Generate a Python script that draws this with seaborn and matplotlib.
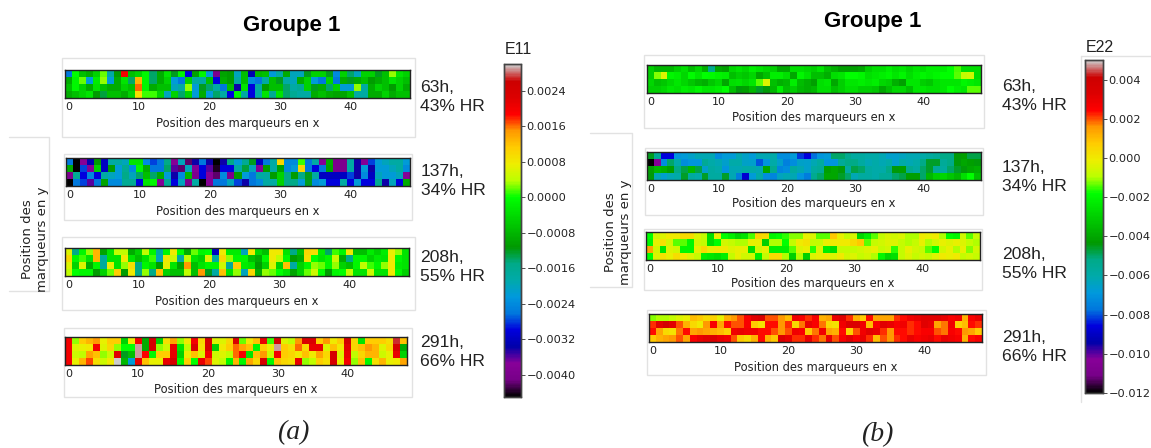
import numpy as np
import seaborn as sns
from matplotlib import pyplot as plt
from matplotlib.lines import Line2D
from matplotlib.patches import Rectangle
from matplotlib.ticker import MultipleLocator

e11_63h = [
    [-26,0,-7,-9,-5,2,-18,-11,20,-7,  -5,-1,-14,-9,-3,-12,-1,-30,-10,-1,  -22,-40,-10,-11,-20,-7,-33,-8,-7,-22,  -18,-9,-20,-20,-12,-5,-5,-12,-24,-5,  -14,-20,-5,-5,-12,-7,3,-3,-5],
    [-9,-1,2,-22,-2,3,-22,-9,-3,-14,  13,-1,-14,-9,-5,-22,-26,-5,-18,-18,  -7,-30,-9,-11,-18,-7,-24,-26,-18,-7,  -12,-18,-20,-9,-5,-22,-26,-5,-26,-9,  -12,-9,-7,-11,-9,-7,-3,-5,-7],
    [-7,-1,-5,-9,-3,-7,-9,-9,-5,-7,  16,-1,-9,-7,-7,-20,-18,3,-22,-12,  -14,-18,-26,-7,-34,-3,-30,-18,-11,-7,  -7,-14,-18,-16,-5,-12,-9,-14,-5,-22,  -22,3,-18,-9,-5,-7,-11,-5,-9],
    [-9,-7,-5,-3,-11,-13,-7,-7,-9,-5,  9,1,1,-5,-20,-5,-14,-5,-22,-9,  -22,-14,-18,-30,-1,-18,-30,-18,-3,-16,  -3,-14,-16,-18,-18,-9,-7,-9,-10,-10,  -7,-18,-18,-9,-9,-5,-9,-7,-7],
]
e11_137h = [
    [-26,-45,-38,-33,-11,-32,-18,-18,-20,-3,  -3,-24,-28,-26,-15,-38,-20,-42,-34,-26,  -34,-45,-34,-15,-22,-16,-12,-32,-26,-18,  10,-24,-24,1,-26,-18,-38,-9,-40,-40,  -18,-34,-38,-28,-22,-20,-18,-18,-22],
    [-9,-45,-28,-38,-5,-32,-11,-22,-16,-24,  -1,-9,-26,-26,-14,-36,-42,-20,-38,-30,  -36,-44,-30,-30,-18,-13,-20,-38,-11,-18,  -10,-24,-22,10,-26,-30,-26,-10,-40,-40,  -18,-34,-22,-34,-22,-22,-20,-18,-24],
    [-40,-16,-30,-24,-30,-18,-20,-22,-15,-20,  -14,-7,-14,-9,-22,-34,-24,-8,-40,-30,  -38,-42,-24,-40,-11,-22,-26,-18,-18,-11,  -5,-15,-11,-15,-12,-18,-32,-32,-32,-32,  -28,-34,-24,-32,-20,-22,-22,-20,-38],
    [-45,-26,-28,-36,-26,-10,-24,-24,-16,-16,  -30,-3,-1,-38,-16,-30,-20,-40,-18,-45,  -38,-26,-26,-20,-28,-34,-26,-24,-18,-18,  -5,-15,-15,-22,-12,-24,-22,-30,-30,-18,  -30,-22,-30,-30,-16,-34,-20,-30,-9],
]
e11_208h = [
    [6,-15,-1,3,13,-10,-3,4,4,-9,  -5,4,-1,-18,-1,8,0,-9,2,-1,  0,-32,8,-2,-2,-20,8,-4,-7,8,  8,-3,-15,-7,10,9,-2,-14,1,-1,  8,-7,-7,-2,-5,-2,7,3,-3],
    [10,-1,1,-3,13,-17,-3,-3,8,-3,  -7,-3,1,-20,8,5,-18,4,-3,-5,  6,-18,10,3,-1,-1,-7,-9,-1,8,  4,-1,-11,-9,9,0,-3,-1,5,-9,  -15,-1,-1,-5,-2,-3,8,-1,-3],
    [6,-5,6,-9,-1,-17,7,-3,3,9,  -15,-1,-3,-11,7,-3,-10,15,-7,-3,  -1,-1,5,-17,11,-2,-3,-11,-5,6,  -5,12,-18,-5,-1,3,2,-1,3,-5,  -7,-1,4,1,-1,3,8,-2,-3],
    [4,0,-1,-1,-11,-5,2,11,-11,8,  -15,3,-15,12,-5,-7,-7,4,-7,15,  -12,-18,12,-3,3,-20,10,-9,3,2,  0,-3,-10,-5,2,5,0,-11,-1,0,  4,-3,-3,5,-3,-3,8,-1,-5],
]
e11_291h = [
    [20,3,11,13,15,7,11,11,-5,8,  20,-9,24,-5,9,14,3,8,20,10,  24,6,6,10,23,2,8,12,21,1,  24,6,4,15,23,23,11,15,8,11,  25,10,-3,11,11,11,9,27,12],
    [20,6,7,8,20,6,10,3,0,0,  29,-9,24,3,5,21,-3,4,23,9,  24,-5,8,11,16,14,12,-1,11,7,  29,11,9,16,10,21,21,6,12,8,  22,10,12,15,13,6,10,24,-9],
    [20,5,4,14,12,3,5,22,-12,-7,  29,19,-1,11,11,21,-5,7,12,6,  20,5,6,4,16,20,-3,12,15,5,  20,11,10,8,12,8,14,10,24,6,  21,4,10,13,13,5,7,21,-5],
    [20,7,13,17,9,5,8,30,-8,-22,  21,12,7,7,21,24,-1,11,0,21,  17,6,4,-1,13,-1,14,10,24,-1,  12,10,9,21,3,4,11,9,24,7,  20,3,12,-1,9,13,7,8,14],
]
e22_63h = [
    [-30,-36,-36,-36,-30,-26,-35,-28,-38,-54,  -40,-42,-28,-25,-28,-22,-25,-28,-30,-40,  -40,-26,-26,-28,-30,-25,-34,-38,-42,-42,  -42,-40,-30,-26,-26,-22,-26,-24,-28,-24,  -26,-22,-22,-22,-18,-15,-26,-26,-26],
    [-30,-12,-4,-20,-22,-28,-19,-24,-18,-19,  -21,-22,-34,-30,-32,-28,-40,-34,-22,-22,  -26,-40,-20,-25,-34,-34,-38,-26,-24,-18,  -18,-20,-26,-24,-22,-20,-24,-20,-26,-22,  -20,-22,-20,-18,-18,-14,-8,-6,-26],
    [-28,-34,-32,-28,-24,-28,-32,-36,-38,-32,  -28,-40,-26,-25,-28,-24,-14,-4,-34,-38,  -36,-22,-35,-38,-42,-26,-24,-40,-30,-24,  -24,-22,-24,-22,-28,-30,-38,-42,-24,-24,  -30,-32,-26,-24,-24,-24,-20,-22,-24],
    [-30,-30,-28,-24,-26,-22,-24,-20,-24,-24,  -22,-18,-34,-44,-42,-36,-46,-44,-36,-22,  -34,-30,-36,-38,-36,-26,-26,-34,-30,-26,  -26,-30,-30,-32,-40,-34,-28,-28,-34,-24,  -24,-26,-26,-24,-18,-22,-24,-14,-14],
]
e22_137h = [
    [-45,-55,-86,-86,-70,-68,-65,-62,-62,-62,  -72,-68,-68,-62,-65,-68,-62,-62,-60,-72,  -72,-68,-82,-86,-78,-70,-68,-50,-50,-54,  -58,-58,-60,-60,-62,-66,-66,-64,-62,-62,  -60,-58,-56,-52,-52,-44,-42,-48,-48],
    [-120,-105,-72,-50,-60,-72,-70,-70,-55,-60,  -62,-66,-60,-60,-65,-66,-80,-70,-60,-66,  -75,-72,-65,-66,-62,-58,-70,-70,-56,-52,  -52,-58,-62,-60,-62,-60,-66,-60,-62,-60,  -52,-46,-46,-56,-52,-44,-40,-42,-44],
    [-42,-36,-38,-42,-52,-48,-36,-48,-66,-58,  -60,-70,-62,-62,-60,-60,-62,-40,-54,-74,  -72,-58,-62,-66,-58,-56,-42,-40,-44,-58,  -48,-50,-58,-60,-60,-52,-44,-42,-54,-58,  -50,-46,-56,-58,-50,-46,-44,-40,-38],
    [-44,-62,-66,-62,-60,-46,-58,-60,-46,-58,  -58,-46,-62,-76,-88,-68,-60,-72,-74,-64,  -62,-62,-70,-76,-54,-50,-40,-40,-46,-50,  -62,-58,-58,-60,-56,-56,-50,-48,-42,-42,  -50,-36,-30,-28,-32,-36,-26,-18,-34],
]
e22_208h = [
    [-18,-6,-4,0,0,4,4,-4,-8,-26,  -2,-18,-22,-28,-25,-15,5,4,-20,-18,  -16,-12,-12,-2,-4,-14,-14,8,-2,-8,  -5,-28,-22,-14,-8,-5,-6,-4,-10,-10,  0,-2,0,-10,-18,-20,-6,-14,-8],
    [-20,-2,2,-6,-14,-14,-20,-6,-8,-26,  -18,-6,-8,-10,-10,-2,-2,-30,-10,-10,  -18,-8,0,2,-8,-8,-2,0,0,0,  4,8,-14,-8,-6,-4,-4,-8,-10,-8,  -2,-10,-6,-2,-4,-2,-4,-8,-10],
    [14,-6,-24,-4,-6,-20,-20,-2,4,-2,  0,0,-4,-2,-2,-26,-6,-2,-22,-22,  -22,-14,-4,-2,-16,-4,-22,-26,-8,-8,  -8,-6,-4,-2,-8,-6,-16,-8,-2,-6,  -8,-14,-18,-6,-2,-10,-2,-12,-6],
    [-18,-4,2,-2,3,0,-4,-8,-22,-24,  -26,-22,-8,-2,-6,-6,-22,-8,4,4,  -10,-30,-10,-30,-4,-2,0,-4,0,-6,  -4,-8,-6,-10,-20,-28,-26,-8,-4,-8,  -6,-8,-4,0,-2,0,-8,-6,-8],
]
e22_291h = [
    [-12,-10,-10,-8,-4,-2,10,8,4,6,  -2,12,16,20,26,32,34,20,20,16,  10,28,26,22,26,12,14,30,32,22,  12,7,24,14,14,14,22,24,28,30,  32,32,32,30,26,28,12,26,30],
    [22,32,38,32,20,12,4,0,16,26,  14,24,20,20,26,7,2,24,24,16,  22,4,18,30,26,18,4,2,28,34,  34,28,10,26,32,30,26,28,22,24,  32,30,14,18,28,6,10,24,22],
    [24,14,4,2,18,24,14,16,14,12,  10,6,28,30,28,28,24,24,20,16,  20,28,26,8,18,28,14,12,24,6,  20,28,32,30,22,16,24,24,22,24,  26,26,20,18,26,24,16,14,8],
    [8,12,14,16,20,14,26,30,32,34,  30,28,20,8,4,12,24,12,8,34,  30,22,22,30,22,18,30,20,26,32,  26,30,22,10,20,16,22,24,30,26,  28,30,24,30,28,26,12,24,26],
]

x_ticks = [0, 10, 20, 30, 40]
x_label = "Position des marqueurs en x"
y_label = "Position des\nmarqueurs en y"
time_labels = ["63h,\n43% HR", "137h,\n34% HR", "208h,\n55% HR", "291h,\n66% HR"]

W, H = 1151, 448
SANS = ["Liberation Sans", "DejaVu Sans"]
GREY = "#e2e2e2"

sns.set_theme(style="white")
plt.rcParams["font.family"] = ["DejaVu Sans"]

fig = plt.figure(figsize=(W / 100, H / 100), dpi=100, facecolor="white")


def px_axes(x0, y0, x1, y1):
    return fig.add_axes([x0 / W, 1 - y1 / H, (x1 - x0) / W, (y1 - y0) / H])


def px_text(x, y, s, **kw):
    fig.text(x / W, 1 - y / H, s, **kw)


def px_line(xs, ys):
    fig.add_artist(Line2D([x / W for x in xs], [1 - y / H for y in ys], color=GREY, lw=1, zorder=-1))


def px_box(x0, y0, x1, y1):
    fig.add_artist(Rectangle((x0 / W, 1 - y1 / H), (x1 - x0) / W, (y1 - y0) / H,
                             transform=fig.transFigure, fc="white", ec=GREY, lw=1, zorder=-1))


def strip(values, vmin, vmax, box, frame, label_y, time_x, time_y, time_label, cax=None):
    px_box(*frame)
    ax = px_axes(*box)
    sns.heatmap(np.array(values) * 1e-4, ax=ax, cmap="nipy_spectral", vmin=vmin, vmax=vmax,
                cbar=cax is not None, cbar_ax=cax, xticklabels=False, yticklabels=False)
    ax.set_xticks([t + 0.5 for t in x_ticks], [str(t) for t in x_ticks])
    ax.set_yticks([0.5, 1.5, 2.5, 3.5], [])
    ax.tick_params(axis="both", which="major", direction="in", length=2.5, width=0.6,
                   top=True, right=True, left=True, bottom=True, color="black", pad=3,
                   labelsize=8, labelcolor="#222222")
    for s in ax.spines.values():
        s.set_visible(True)
        s.set_color("#222222")
        s.set_linewidth(1)
    px_text((box[0] + box[2]) / 2, label_y, x_label, ha="center", va="center",
            fontsize=8.3, color="#222222")
    px_text(time_x, time_y, time_label, ha="left", va="center", family=SANS,
            fontsize=12.6, color="#222222", linespacing=1.35)
    return ax


def colorbar(cax, locator, title, title_x, title_y):
    cax.yaxis.set_major_locator(locator)
    cax.tick_params(axis="y", length=3, width=0.6, labelsize=8.2, pad=1, right=True,
                    labelcolor="#222222", color="#333333")
    for s in cax.spines.values():
        s.set_visible(True)
        s.set_color("#444444")
        s.set_linewidth(1)
    px_text(title_x, title_y, title, ha="left", va="center", family=SANS, fontsize=11.5,
            color="#222222")


# panel (a)
E11_MIN, E11_MAX = -0.0045, 0.0030
px_line([9, 49, 49, 9], [137, 137, 291, 291])
cax_a = px_axes(504, 64, 521, 397)
strip(e11_63h, E11_MIN, E11_MAX, (65, 70, 410, 98), (62, 58, 415, 137), 123, 420, 97, time_labels[0], cax_a)
strip(e11_137h, E11_MIN, E11_MAX, (66, 158, 410, 186), (64, 154, 412, 220), 211, 421, 181, time_labels[1])
strip(e11_208h, E11_MIN, E11_MAX, (65, 248, 409, 276), (62, 237, 415, 310), 301, 420, 267, time_labels[2])
strip(e11_291h, E11_MIN, E11_MAX, (65, 337, 407, 365), (64, 328, 412, 397), 389, 420, 352, time_labels[3])
colorbar(cax_a, MultipleLocator(0.0008), "E11", 505, 49)
px_text(35, 239, y_label, rotation=90, ha="center", va="center", multialignment="center",
        fontsize=9.5, color="#222222")
px_text(292, 26, "Groupe 1", ha="center", va="center", family=SANS, fontsize=16, fontweight="bold", color="black")
px_text(293, 433, "(a)", ha="center", va="center", family="Liberation Serif", style="italic", fontsize=20, color="#222222")

# panel (b)
E22_MIN, E22_MAX = -0.012, 0.005
px_line([590, 632, 632, 590], [133, 133, 287, 287])
cax_b = px_axes(1085, 60, 1103, 393)
strip(e22_63h, E22_MIN, E22_MAX, (647, 65, 981, 93), (644, 55, 984, 128), 117, 1002, 96, time_labels[0], cax_b)
strip(e22_137h, E22_MIN, E22_MAX, (647, 152, 981, 180), (645, 148, 983, 215), 204, 1002, 177, time_labels[1])
strip(e22_208h, E22_MIN, E22_MAX, (646, 232, 980, 260), (644, 229, 982, 290), 284, 1002, 264, time_labels[2])
strip(e22_291h, E22_MIN, E22_MAX, (649, 314, 982, 342), (647, 310, 986, 375), 367, 1002, 347, time_labels[3])
colorbar(cax_b, MultipleLocator(0.002), "E22", 1086, 47)
px_text(618, 232, y_label, rotation=90, ha="center", va="center", multialignment="center",
        fontsize=9.5, color="#222222")
px_text(873, 21, "Groupe 1", ha="center", va="center", family=SANS, fontsize=16, fontweight="bold", color="black")
px_text(877, 435, "(b)", ha="center", va="center", family="Liberation Serif", style="italic", fontsize=20, color="#222222")

# faint frames round the colour bars
px_line([1081, 1081], [56, 402])
px_line([1081, 1151], [56, 56])

fig.savefig("out.png", dpi=100)
